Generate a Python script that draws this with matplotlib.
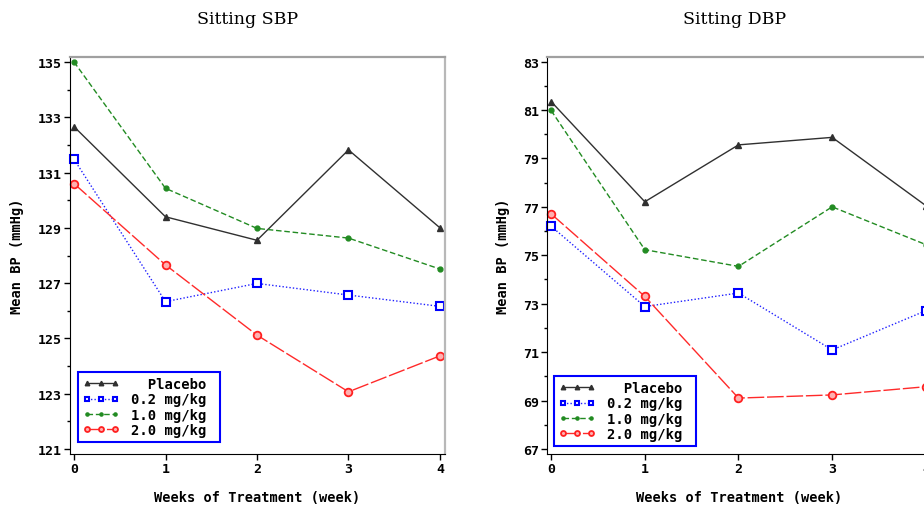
import numpy as np
import matplotlib
matplotlib.use("Agg")
import matplotlib.pyplot as plt
from matplotlib.ticker import MultipleLocator

# Mean blood pressure by dose group over the treatment weeks
weeks = [0, 1, 2, 3, 4]
groups = ["Placebo", "0.2 mg/kg", "1.0 mg/kg", "2.0 mg/kg"]

sbp_placebo = [132.66, 129.40, 128.55, 131.82, 129.00]
sbp_02 = [131.48, 126.33, 126.99, 126.57, 126.16]
sbp_10 = [135.00, 130.43, 128.98, 128.63, 127.51]
sbp_20 = [130.60, 127.66, 125.12, 123.07, 124.37]

dbp_placebo = [81.35, 77.21, 79.56, 79.87, 77.05]
dbp_02 = [76.20, 72.88, 73.44, 71.09, 72.71]
dbp_10 = [80.98, 75.23, 74.54, 77.00, 75.44]
dbp_20 = [76.71, 73.30, 69.10, 69.23, 69.57]

sbp_ticks = np.arange(121, 136, 2)
dbp_ticks = np.arange(67, 84, 2)

# line / marker style for each group
styles = [
    dict(color="#303030", ls="-", marker="^", ms=5, mfc="#303030", mec="#303030", lw=1.0),
    dict(color="#2020ff", ls=(0, (1, 1.5)), marker="s", ms=5.2, mfc="white", mec="#0000ff", mew=1.5, lw=1.0),
    dict(color="#228b22", ls=(0, (4, 2)), marker="o", ms=3.5, mfc="#228b22", mec="#228b22", lw=1.0),
    dict(color="#ff2a2a", ls=(0, (12, 2)), marker="o", ms=5.5, mfc="#ffb0b0", mec="#ff2020", mew=1.3, lw=1.0),
]

tick_font = dict(family="DejaVu Sans Mono", weight="bold", size=9.5)
label_font = dict(family="DejaVu Sans Mono", weight="bold", size=9.8)

fig = plt.figure(figsize=(9.24, 5.1), dpi=100)
ax1 = fig.add_axes([70 / 924, 55 / 510, 375 / 924, 397 / 510])
ax2 = fig.add_axes([547 / 924, 55 / 510, 384 / 924, 397 / 510])

panels = [
    (ax1, [sbp_placebo, sbp_02, sbp_10, sbp_20], (120.82, 135.18), sbp_ticks, -0.141, 0.021, 0.03),
    (ax2, [dbp_placebo, dbp_02, dbp_10, dbp_20], (66.79, 83.19), dbp_ticks, -0.115, 0.018, 0.02),
]

for ax, series, ylim, yticks, ylab_x, leg_x, leg_y in panels:
    for vals, name, st in zip(series, groups, styles):
        # pad placebo so the monospace legend labels line up on the right
        lab = name.rjust(9) + " "
        ax.plot(weeks, vals, label=lab, clip_on=False, **st)

    ax.set_xlim(-0.044, 4.055)
    ax.set_ylim(*ylim)
    ax.set_xticks(weeks)
    ax.set_yticks(yticks)
    ax.yaxis.set_minor_locator(MultipleLocator(1))
    ax.tick_params(axis="both", direction="out", length=4, width=1, color="black", pad=2)
    ax.tick_params(axis="y", which="minor", direction="out", length=2.5, width=1)
    for t in ax.get_xticklabels() + ax.get_yticklabels():
        t.set_fontfamily(tick_font["family"])
        t.set_fontweight(tick_font["weight"])
        t.set_fontsize(tick_font["size"])

    ax.spines["left"].set_color("black")
    ax.spines["bottom"].set_color("black")
    ax.spines["top"].set_color("#a0a0a0")
    ax.spines["right"].set_color("#b8b8b8")
    ax.spines["top"].set_linewidth(1.6)
    ax.spines["right"].set_linewidth(1.6)

    ax.set_ylabel("Mean BP (mmHg)", va="center", **label_font)
    ax.yaxis.set_label_coords(ylab_x, 0.5)
    ax.set_xlabel("Weeks of Treatment (week)", va="center", **label_font)
    ax.xaxis.set_label_coords(0.5, -0.108)

    leg = ax.legend(loc="lower left", bbox_to_anchor=(leg_x, leg_y), numpoints=3,
                    markerscale=0.65, handlelength=2.6, handletextpad=0.9,
                    labelspacing=0.1, borderpad=0.35, borderaxespad=0,
                    fancybox=False, framealpha=1,
                    prop=dict(family="DejaVu Sans Mono", weight="bold", size=10))
    leg.get_frame().set_edgecolor("#0000ff")
    leg.get_frame().set_linewidth(1.5)

fig.text(248 / 924, 1 - 20 / 510, "Sitting SBP", ha="center", va="center",
         family="DejaVu Serif", fontsize=12.5)
fig.text(735 / 924, 1 - 20 / 510, "Sitting DBP", ha="center", va="center",
         family="DejaVu Serif", fontsize=12.5)

fig.savefig("out.png", dpi=100)
